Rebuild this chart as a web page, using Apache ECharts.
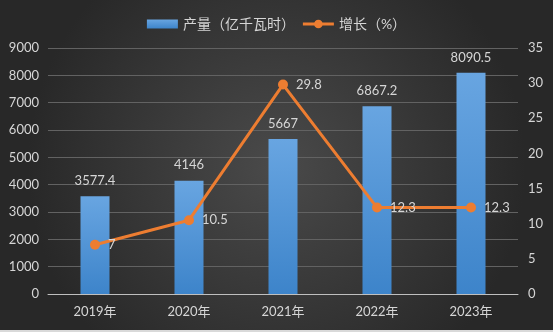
<!DOCTYPE html>
<html>
<head>
<meta charset="utf-8">
<script src="https://cdn.jsdelivr.net/npm/echarts@6/dist/echarts.min.js"></script>
<style>
  html, body { margin: 0; padding: 0; }
  #chart { width: 553px; height: 332px; }
</style>
</head>
<body>
<div id="chart"></div>
<script>
// Annual output and year-on-year growth
var years = ['2019年', '2020年', '2021年', '2022年', '2023年'];
var output = [3577.4, 4146, 5667, 6867.2, 8090.5];
var growth = [7, 10.5, 29.8, 12.3, 12.3];
var outputName = '产量（亿千瓦时）';
var growthName = '增长（%）';

var FONT = "Lato, 'Noto Sans CJK SC', sans-serif";
var TEXT = '#d6d6d6';
// legend marker for the growth line: thick stroke with a dot in the middle
var LINE_ICON = 'path://M0,3 L32,3 L32,6 L0,6 Z M11.5,4.5 A4.5,4.5 0 1,1 20.5,4.5 A4.5,4.5 0 1,1 11.5,4.5 Z';

var chart = echarts.init(document.getElementById('chart'));
chart.setOption({
  animation: false,
  backgroundColor: {
    type: 'radial', x: 0.5, y: 0.5, r: 0.75,
    colorStops: [
      { offset: 0, color: '#4a4a4a' },
      { offset: 1, color: '#282828' }
    ]
  },
  textStyle: { fontFamily: FONT, color: TEXT },
  graphic: [{
    type: 'rect', left: 0, top: 330,
    shape: { width: 553, height: 2 },
    style: { fill: '#d9d9d9' }
  }],
  legend: {
    top: 12, left: 'center',
    itemWidth: 31, itemHeight: 9, itemGap: 8,
    textStyle: { color: TEXT, fontSize: 14, fontFamily: FONT },
    data: [
      { name: outputName, icon: 'rect' },
      { name: growthName, icon: LINE_ICON }
    ]
  },
  grid: { left: 48, right: 35, top: 48, bottom: 38 },
  xAxis: {
    type: 'category',
    data: years,
    axisLine: { lineStyle: { color: '#bfbfbf', width: 1 } },
    axisTick: { show: false },
    axisLabel: { color: TEXT, fontSize: 13, margin: 11 }
  },
  yAxis: [{
    type: 'value', min: 0, max: 9000, interval: 1000,
    axisLine: { show: false }, axisTick: { show: false },
    axisLabel: { color: TEXT, fontSize: 13, margin: 9, formatter: function (v) { return String(v); } },
    splitLine: { lineStyle: { color: '#626262', width: 1 } }
  }, {
    type: 'value', min: 0, max: 35, interval: 5,
    axisLine: { show: false }, axisTick: { show: false },
    axisLabel: { color: TEXT, fontSize: 13, margin: 10 },
    splitLine: { show: false }
  }],
  series: [{
    name: outputName,
    type: 'bar',
    data: output,
    barWidth: 29,
    itemStyle: {
      color: {
        type: 'linear', x: 0, y: 0, x2: 0, y2: 1,
        colorStops: [
          { offset: 0, color: '#68a5e1' },
          { offset: 1, color: '#3d84ca' }
        ]
      }
    },
    label: {
      show: true, position: 'top', distance: 9,
      color: TEXT, fontSize: 13, fontFamily: FONT
    }
  }, {
    name: growthName,
    type: 'line',
    yAxisIndex: 1,
    data: growth,
    color: '#ed7d31',
    lineStyle: { color: '#ed7d31', width: 3 },
    itemStyle: { color: '#ed7d31' },
    symbol: 'circle', symbolSize: 10,
    label: {
      show: true, position: 'right', distance: 8,
      color: TEXT, fontSize: 13, fontFamily: FONT
    },
    z: 5
  }]
});
</script>
</body>
</html>
